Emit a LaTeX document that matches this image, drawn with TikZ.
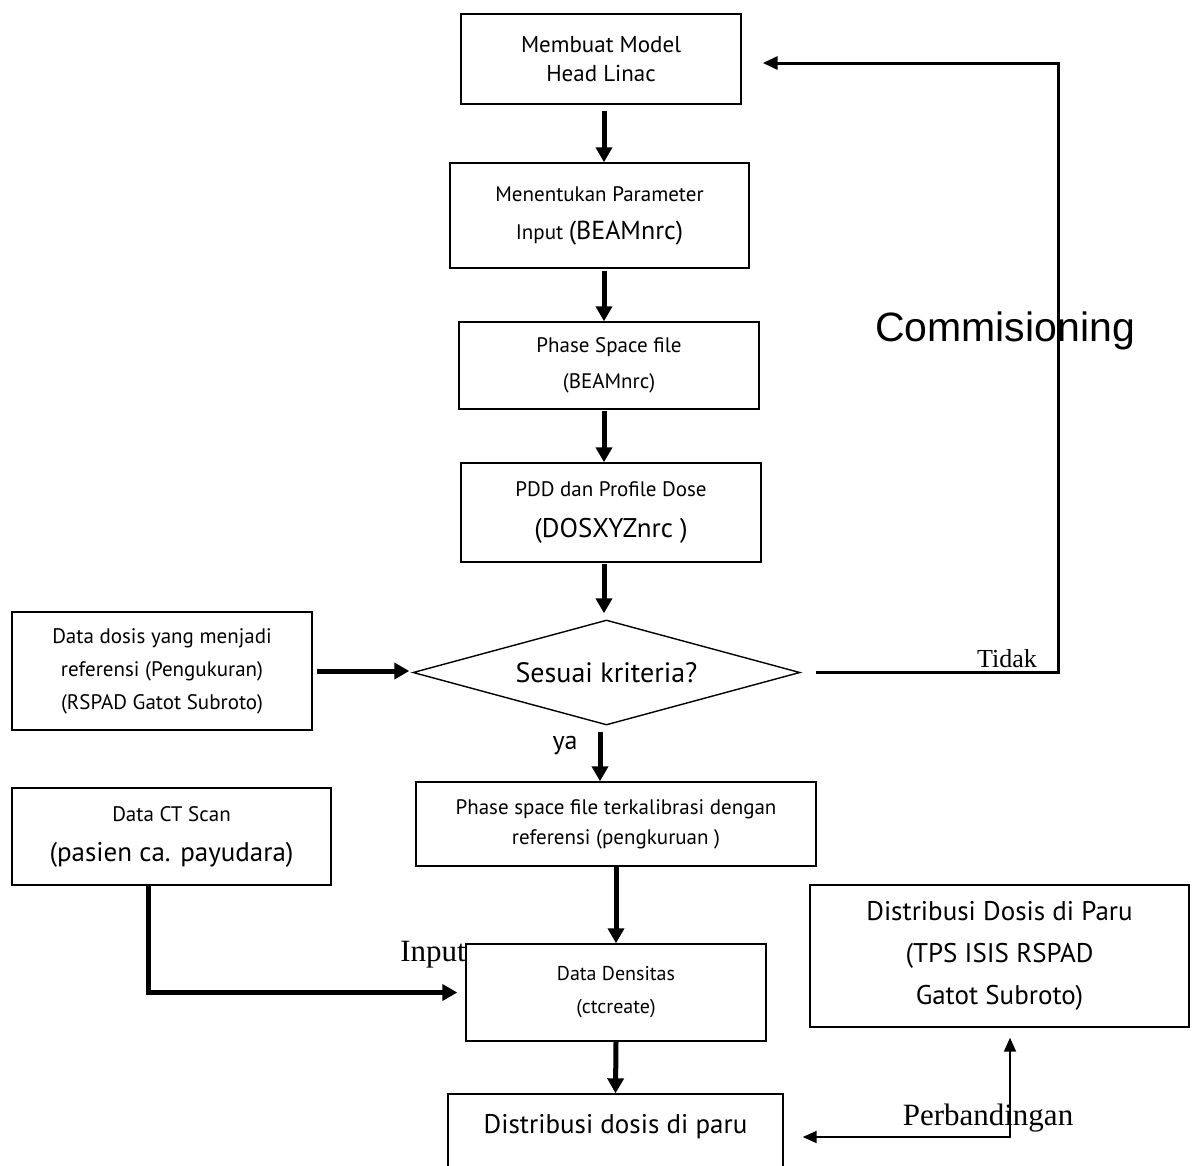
\documentclass[tikz,border=0pt]{standalone}
\usepackage{fontspec}
\setmainfont{PT Sans}
\newfontfamily\serifrm{Liberation Serif}
\newfontfamily\arialf{Liberation Sans}
\usetikzlibrary{arrows.meta,shapes.geometric,calc}
\newcommand{\fs}[2]{\fontsize{#1}{#2}\selectfont}
\begin{document}
\begin{tikzpicture}[x=1pt,y=-1pt,
  box/.style={draw, line width=1.4pt, align=center, inner sep=0pt},
  flow/.style={line width=5pt, -{Triangle[width=16pt,length=15pt]}},
  loopline/.style={line width=3pt, -{Triangle[width=13pt,length=15pt]}},
  cmp/.style={line width=2pt, {Triangle[width=12pt,length=14pt]}-{Triangle[width=12pt,length=14pt]}},
  lbl/.style={inner sep=0pt}]
\useasboundingbox[fill=white] (0,0) rectangle (1193,1165);

% nodes
\node[box, minimum width=280pt, minimum height=90pt, font=\fs{23}{29}] (b1) at (601,59) {Membuat Model\\Head Linac};
\node[box, minimum width=299pt, minimum height=105pt, font=\fs{21}{38}] (b2) at (599.5,215.5) {Menentukan Parameter\\Input {\fs{26}{38}(BEAMnrc)}};
\node[box, minimum width=300pt, minimum height=87pt, font=\fs{21}{36}] (b3) at (609,365.5) {Phase Space file\\(BEAMnrc)};
\node[box, minimum width=300pt, minimum height=99pt, font=\fs{21}{41}] (b4) at (611,512.5) {PDD dan Profile Dose\\{\fs{27}{41}(DOSXYZnrc )}};
\node[draw, line width=1.4pt, diamond, aspect=3.686, minimum width=387pt, minimum height=105pt, inner sep=0pt, font=\fs{28}{34}] (d) at (606.5,672.5) {Sesuai kriteria?};
\node[box, minimum width=300pt, minimum height=118pt, font=\fs{21}{33}] (lr) at (162,671) {Data dosis yang menjadi\\referensi (Pengukuran)\\(RSPAD Gatot Subroto)};
\node[box, minimum width=400pt, minimum height=84pt, font=\fs{21}{30}] (b5) at (616,824) {Phase space file terkalibrasi dengan\\referensi (pengkuruan )};
\node[box, minimum width=319pt, minimum height=97pt, font=\fs{21}{40}] (ct) at (171.5,836.5) {Data CT Scan\\{\fs{27}{40}(pasien ca. payudara)}};
\node[box, minimum width=300pt, minimum height=97pt, font=\fs{20}{33}] (b6) at (616,992.5) {Data Densitas\\(ctcreate)};
\node[box, minimum width=335pt, minimum height=78pt, text height=15pt, text depth=15pt, font=\fs{27}{33}] (b7) at (615.5,1133) {Distribusi dosis di paru};
\node[box, minimum width=379pt, minimum height=142pt, font=\fs{27}{42}] (b8) at (999.5,956) {Distribusi Dosis di Paru\\(TPS ISIS RSPAD\\Gatot Subroto)};

% labels
\node[lbl, font=\arialf\fs{41}{45}] (comm) at (1005,331) {Commisioning};
\node[lbl, font=\serifrm\fs{26}{30}] (tidak) at (1007,659) {Tidak};
\node[lbl, font=\fs{26}{30}] (ya) at (565,746) {ya};
\node[lbl, font=\serifrm\fs{31}{35}] (inp) at (433,955) {Input};
\node[lbl, font=\serifrm\fs{31}{35}] (perb) at (988,1118) {Perbandingan};

% connectors
\coordinate (spine) at (604,0);
\coordinate (spine2) at (600,0);
\draw[flow, shorten <=6pt] (b1.south -| spine) -- (b2.north -| spine);
\draw[flow, shorten <=2pt] (b2.south -| spine) -- (b3.north -| spine);
\draw[flow, shorten <=1pt] (b3.south -| spine) -- (b4.north -| spine);
\draw[flow, shorten <=1pt, shorten >=6pt] (b4.south -| spine) -- (d.north -| spine);
\draw[flow, shorten <=6pt] (d.south -| spine2) -- (b5.north -| spine2);
\draw[flow] (b5.south) -- (b6.north);
\draw[flow] (b6.south) -- (b7.north);
\draw[flow, shorten <=4pt, shorten >=3pt] (lr.east) -- (lr.east -| d.west);

\coordinate (tr) at (1058,63);
\draw[loopline] ([xshift=15pt]d.east) -- (d.east -| tr) -- (tr) -- ([xshift=21pt]b1.east |- tr);

\coordinate (ctx) at (148,0);
\draw[flow] (ct.south -| ctx) |- ([xshift=-8pt]b6.west);

\coordinate (pb) at (1010,1137);
\draw[cmp] ([yshift=-10pt]b8.south -| pb) -- (pb) -- ([xshift=19pt]b7.east |- pb);
\end{tikzpicture}
\end{document}
